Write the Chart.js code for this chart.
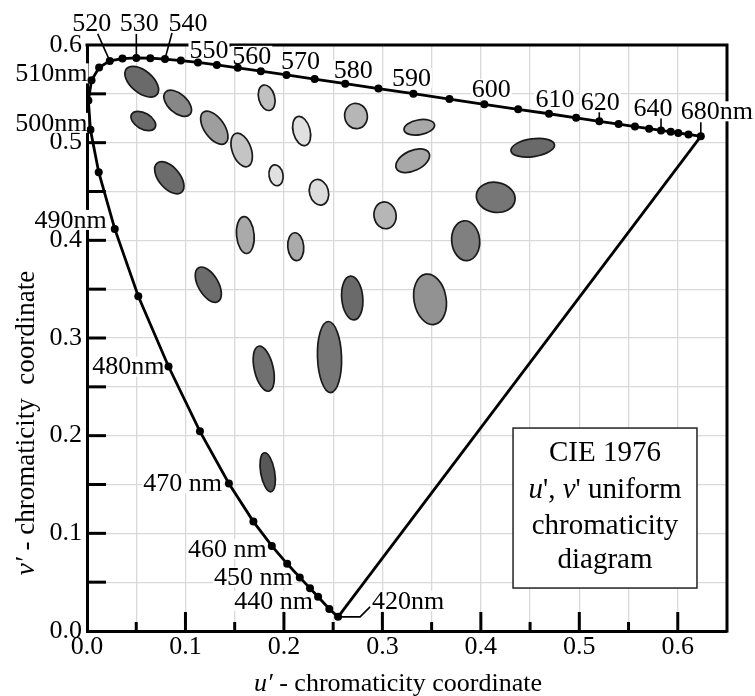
<!DOCTYPE html>
<html>
<head>
<meta charset="utf-8">
<script src="https://cdn.jsdelivr.net/npm/chart.js@4.4.0/dist/chart.umd.min.js"></script>
<style>
  html, body { margin: 0; padding: 0; background: #fff; }
  #wrap { position: relative; width: 755px; height: 696px; }
</style>
</head>
<body>
<div id="wrap"><canvas id="cieChart"></canvas></div>
<script>
// spectral locus: wavelength (nm) and its u', v' coordinates
const wavelengths = [420, 430, 440, 445, 450, 455, 460, 465, 470, 475, 480, 485, 490, 495, 500, 505, 510, 515, 520, 525, 530, 535, 540, 545, 550, 555, 560, 565, 570, 575, 580, 585, 590, 595, 600, 605, 610, 615, 620, 625, 630, 635, 640, 645, 650, 660, 680];
const locusU = [0.2550, 0.2461, 0.2347, 0.2265, 0.2161, 0.2033, 0.1877, 0.1690, 0.1441, 0.1147, 0.0828, 0.0521, 0.0282, 0.0119, 0.0035, 0.0014, 0.0046, 0.0123, 0.0231, 0.0360, 0.0501, 0.0643, 0.0792, 0.0953, 0.1127, 0.1319, 0.1531, 0.1766, 0.2026, 0.2312, 0.2623, 0.2960, 0.3315, 0.3681, 0.4035, 0.4379, 0.4692, 0.4968, 0.5203, 0.5399, 0.5565, 0.5709, 0.5830, 0.5929, 0.6005, 0.6109, 0.6234];
const locusV = [0.0145, 0.0226, 0.0350, 0.0437, 0.0549, 0.0688, 0.0871, 0.1120, 0.1510, 0.2044, 0.2708, 0.3427, 0.4117, 0.4698, 0.5131, 0.5432, 0.5638, 0.5770, 0.5837, 0.5861, 0.5868, 0.5865, 0.5856, 0.5841, 0.5821, 0.5796, 0.5766, 0.5732, 0.5694, 0.5651, 0.5604, 0.5554, 0.5501, 0.5446, 0.5393, 0.5342, 0.5296, 0.5254, 0.5219, 0.5190, 0.5165, 0.5143, 0.5125, 0.5111, 0.5099, 0.5084, 0.5065];

// wavelength labels
const labelWavelengths = [420, 440, 450, 460, 470, 480, 490, 500, 510, 520, 530, 540, 550, 560, 570, 580, 590, 600, 610, 620, 640, 680];
const labelTexts = ['420nm', '440 nm', '450 nm', '460 nm', '470 nm', '480nm', '490nm', '500nm', '510nm', '520', '530', '540', '550', '560', '570', '580', '590', '600', '610', '620', '640', '680nm'];

// MacAdam ellipses: centre (u', v'), semi axes (u' units), tilt (deg), grey shade
const ellipseU = [0.0556, 0.0921, 0.0572, 0.1293, 0.1571, 0.1825, 0.2180, 0.1920, 0.0836, 0.2356, 0.2732, 0.3375, 0.3308, 0.4527, 0.4151, 0.3027, 0.3846, 0.1608, 0.2120, 0.1232, 0.1795, 0.2694, 0.3484, 0.2463, 0.1835];
const ellipseV = [0.5624, 0.5403, 0.5222, 0.5153, 0.4925, 0.5460, 0.5119, 0.4666, 0.4641, 0.4492, 0.5273, 0.5157, 0.4815, 0.4948, 0.4440, 0.4256, 0.3996, 0.4054, 0.3935, 0.3546, 0.2686, 0.3409, 0.3396, 0.2805, 0.1625];
const ellipseA = [0.0203, 0.0168, 0.0137, 0.0193, 0.0178, 0.0132, 0.0152, 0.0107, 0.0193, 0.0132, 0.0129, 0.0157, 0.0183, 0.0223, 0.0198, 0.0137, 0.0203, 0.0188, 0.0142, 0.0198, 0.0234, 0.0223, 0.0259, 0.0361, 0.0201];
const ellipseB = [0.0112, 0.0096, 0.0081, 0.0102, 0.0096, 0.0081, 0.0086, 0.0071, 0.0107, 0.0096, 0.0115, 0.0076, 0.0102, 0.0091, 0.0152, 0.0112, 0.0142, 0.0089, 0.0081, 0.0102, 0.0096, 0.0107, 0.0163, 0.0122, 0.0071];
const ellipseAngle = [-40, -42, -30, -55, -70, -75, -75, -80, -50, -75, -80, 10, 25, 8, -10, -80, -85, -85, -85, -60, -77, -85, -80, -88, -80];
const ellipseShade = ['#6a6a6a', '#888888', '#6a6a6a', '#9e9e9e', '#c4c4c4', '#c0c0c0', '#e0e0e0', '#e0e0e0', '#6c6c6c', '#dcdcdc', '#b6b6b6', '#a8a8a8', '#a8a8a8', '#6a6a6a', '#767676', '#b6b6b6', '#808080', '#aaaaaa', '#aaaaaa', '#6c6c6c', '#707070', '#6a6a6a', '#929292', '#767676', '#585858'];

const legendLines = ['CIE 1976', "u', v' uniform", 'chromaticity', 'diagram'];

const SERIF = "'Liberation Serif', 'Times New Roman', serif";

const locusPoints = wavelengths.map((w, i) => ({ x: locusU[i], y: locusV[i] }));
const purplePoints = [locusPoints[locusPoints.length - 1], locusPoints[0]];

// where each wavelength label sits, relative to its dot (px)
const labelLayout = {
    420: { align: 'left', dx: 34, dy: -16, leader: [[0, 0], [22, 0], [32, -10]] },
    440: { align: 'right', dx: -5, dy: 4 },
    450: { align: 'right', dx: -7, dy: 0 },
    460: { align: 'right', dx: -5, dy: 3 },
    470: { align: 'right', dx: -7, dy: 0 },
    480: { align: 'right', dx: -4, dy: 0 },
    490: { align: 'right', dx: -8, dy: -9 },
    500: { align: 'right', dx: -3, dy: -7 },
    510: { align: 'right', dx: -4, dy: -7 },
    520: { align: 'center', dx: -18, dy: -38, leader: [[-12, -27], [0, 0]] },
    530: { align: 'center', dx: 3, dy: -35, leader: [[0, -24], [0, 0]] },
    540: { align: 'center', dx: 23, dy: -36, leader: [[7, -26], [0, 0]] },
    550: { align: 'center', dx: 11, dy: -12 },
    560: { align: 'center', dx: 14, dy: -12 },
    570: { align: 'center', dx: 14, dy: -14 },
    580: { align: 'center', dx: 8, dy: -14 },
    590: { align: 'center', dx: -2, dy: -16 },
    600: { align: 'center', dx: 7, dy: -15 },
    610: { align: 'center', dx: 6, dy: -15 },
    620: { align: 'center', dx: 1, dy: -19, leader: [[0, -9], [0, 0]] },
    640: { align: 'center', dx: -8, dy: -22, leader: [[0, -12], [0, 0]] },
    680: { align: 'center', dx: 16, dy: -25, leader: [[0, -14], [0, 0]] }
};

function drawRuns(ctx, runs, cx, cy, size) {
    let total = 0;
    runs.forEach(r => {
        ctx.font = (r.italic ? 'italic ' : '') + size + 'px ' + SERIF;
        total += ctx.measureText(r.text).width;
    });
    let x = cx - total / 2;
    ctx.textAlign = 'left';
    runs.forEach(r => {
        ctx.font = (r.italic ? 'italic ' : '') + size + 'px ' + SERIF;
        ctx.fillText(r.text, x, cy);
        x += ctx.measureText(r.text).width;
    });
}

const cieDecor = {
    id: 'cieDecor',
    beforeDatasetsDraw(chart) {
        const ctx = chart.ctx;
        const xs = chart.scales.x, ys = chart.scales.y;
        const area = chart.chartArea;
        const kx = xs.getPixelForValue(1) - xs.getPixelForValue(0);

        // ellipses
        ctx.save();
        ellipseU.forEach((u, i) => {
            ctx.beginPath();
            ctx.ellipse(xs.getPixelForValue(u), ys.getPixelForValue(ellipseV[i]),
                ellipseA[i] * kx, ellipseB[i] * kx, -ellipseAngle[i] * Math.PI / 180, 0, Math.PI * 2);
            ctx.fillStyle = ellipseShade[i];
            ctx.fill();
            ctx.lineWidth = 1.7;
            ctx.strokeStyle = '#1a1a1a';
            ctx.stroke();
        });
        ctx.restore();

        // top and right frame, inward ticks
        ctx.save();
        ctx.strokeStyle = '#000';
        ctx.lineWidth = 3;
        ctx.beginPath();
        ctx.moveTo(area.left - 1.5, area.top);
        ctx.lineTo(area.right, area.top);
        ctx.lineTo(area.right, area.bottom + 1.5);
        ctx.stroke();
        xs.ticks.forEach(t => {
            const px = xs.getPixelForValue(t.value);
            if (px <= area.left + 1 || px >= area.right - 1) return;
            const major = Math.abs(t.value * 10 - Math.round(t.value * 10)) < 1e-6;
            ctx.beginPath();
            ctx.moveTo(px, area.bottom);
            ctx.lineTo(px, area.bottom - (major ? 19 : 9));
            ctx.stroke();
        });
        ys.ticks.forEach(t => {
            const py = ys.getPixelForValue(t.value);
            if (py >= area.bottom - 1 || py <= area.top + 1) return;
            ctx.beginPath();
            ctx.moveTo(area.left, py);
            ctx.lineTo(area.left + 19, py);
            ctx.stroke();
        });
        ctx.restore();

        // wavelength labels
        ctx.save();
        ctx.font = '26px ' + SERIF;
        ctx.textBaseline = 'middle';
        labelWavelengths.forEach((w, i) => {
            const k = wavelengths.indexOf(w);
            const px = xs.getPixelForValue(locusU[k]);
            const py = ys.getPixelForValue(locusV[k]);
            const lay = labelLayout[w];
            const text = labelTexts[i];
            const tw = ctx.measureText(text).width;
            let left = px + lay.dx;
            if (lay.align === 'center') left -= tw / 2;
            if (lay.align === 'right') left -= tw;
            const cy = py + lay.dy;
            ctx.fillStyle = '#fff';
            ctx.fillRect(left - 1, cy - 10, tw + 2, 20);
            ctx.fillStyle = '#000';
            ctx.textAlign = 'left';
            ctx.fillText(text, left, cy + 1);
            if (lay.leader) {
                ctx.beginPath();
                ctx.lineWidth = 1.6;
                ctx.strokeStyle = '#000';
                lay.leader.forEach((p, j) => {
                    if (j === 0) ctx.moveTo(px + p[0], py + p[1]);
                    else ctx.lineTo(px + p[0], py + p[1]);
                });
                ctx.stroke();
            }
        });
        ctx.restore();
    },
    afterDraw(chart) {
        const ctx = chart.ctx;
        const xs = chart.scales.x, ys = chart.scales.y;
        ctx.save();
        ctx.fillStyle = '#000';
        ctx.textBaseline = 'middle';

        // axis titles
        drawRuns(ctx, [{ text: 'u\u2032', italic: true }, { text: ' - chromaticity coordinate' }], 398, 684, 26);
        ctx.save();
        ctx.translate(27, 423);
        ctx.rotate(-Math.PI / 2);
        drawRuns(ctx, [{ text: 'v\u2032', italic: true }, { text: ' - chromaticity  coordinate' }], 0, 0, 27);
        ctx.restore();

        // caption box
        const bx1 = xs.getPixelForValue(0.4327), bx2 = xs.getPixelForValue(0.6195);
        const by1 = ys.getPixelForValue(0.2078), by2 = ys.getPixelForValue(0.0440);
        ctx.fillStyle = '#fff';
        ctx.fillRect(bx1, by1, bx2 - bx1, by2 - by1);
        ctx.strokeStyle = '#222';
        ctx.lineWidth = 1.5;
        ctx.strokeRect(bx1, by1, bx2 - bx1, by2 - by1);
        ctx.fillStyle = '#000';
        const cx = (bx1 + bx2) / 2;
        const lineY = [by1 + 25, by1 + 62, by1 + 98, by1 + 132];
        drawRuns(ctx, [{ text: legendLines[0] }], cx, lineY[0], 29);
        drawRuns(ctx, [{ text: 'u', italic: true }, { text: "', " }, { text: 'v', italic: true }, { text: "' uniform" }], cx, lineY[1], 29);
        drawRuns(ctx, [{ text: legendLines[2] }], cx, lineY[2], 29);
        drawRuns(ctx, [{ text: legendLines[3] }], cx, lineY[3], 29);
        ctx.restore();
    }
};

function tickLabel(v) {
    return Math.abs(v * 10 - Math.round(v * 10)) < 1e-6 ? v.toFixed(1) : '';
}

const ctx = document.getElementById('cieChart').getContext('2d');
const cieChart = new Chart(ctx, {
    type: 'scatter',
    data: {
        datasets: [{
            label: 'spectral locus',
            data: locusPoints,
            showLine: true,
            borderColor: '#000',
            borderWidth: 2.8,
            pointRadius: 4,
            pointBackgroundColor: '#000',
            pointBorderWidth: 0,
            tension: 0
        }, {
            label: 'purple line',
            data: purplePoints,
            showLine: true,
            borderColor: '#000',
            borderWidth: 2.8,
            pointRadius: 0
        }]
    },
    options: {
        responsive: true,
        maintainAspectRatio: false,
        animation: false,
        layout: { padding: { top: 45, right: 28, left: 0, bottom: 0 } },
        plugins: {
            legend: { display: false },
            tooltip: { enabled: false }
        },
        scales: {
            x: {
                type: 'linear',
                min: 0,
                max: 0.65,
                afterFit: s => { s.height = 65; },
                ticks: {
                    stepSize: 0.05,
                    autoSkip: false,
                    maxRotation: 0,
                    padding: 1,
                    color: '#000',
                    font: { family: SERIF, size: 26 },
                    callback: tickLabel
                },
                grid: { color: '#d9d9d9', lineWidth: 1.3, drawTicks: false },
                border: { display: true, color: '#000', width: 3 }
            },
            y: {
                type: 'linear',
                min: 0,
                max: 0.6,
                afterFit: s => { s.width = 87; },
                ticks: {
                    stepSize: 0.05,
                    autoSkip: false,
                    padding: 5,
                    color: '#000',
                    font: { family: SERIF, size: 26 },
                    callback: tickLabel
                },
                grid: { color: '#d9d9d9', lineWidth: 1.3, drawTicks: false },
                border: { display: true, color: '#000', width: 3 }
            }
        }
    },
    plugins: [cieDecor]
});
</script>
</body>
</html>
